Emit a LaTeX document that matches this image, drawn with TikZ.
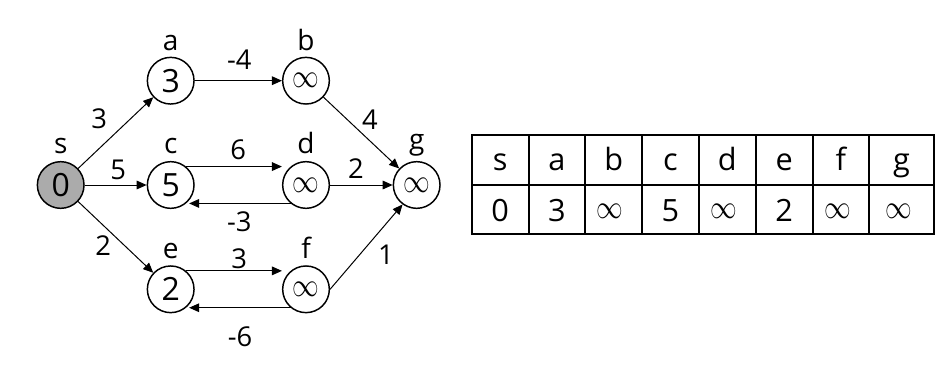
\documentclass[tikz,border=0pt]{standalone}
\usepackage{fontspec}
\usepackage{graphicx}
\setmainfont{Open Sans}
\usetikzlibrary{arrows.meta,calc}
\newcommand\infg{\scalebox{2.0}[2.5]{\fontsize{10}{10}\selectfont$\infty$}}
\begin{document}
\begin{tikzpicture}[x=0.75pt,y=-0.75pt,
  vert/.style={circle,draw,line width=1.1pt,minimum size=35pt,inner sep=0pt,font=\fontsize{24}{24}\selectfont},
  start/.style={vert,fill=black!33},
  vlab/.style={anchor=base,inner sep=0pt,font=\fontsize{21}{21}\selectfont},
  wlab/.style={inner sep=0pt,font=\fontsize{20.5}{20.5}\selectfont},
  edge/.style={line width=0.75pt,-{Triangle[length=7.5pt,width=6.5pt]}},
  tbl/.style={line width=1.5pt},
  cell/.style={anchor=base,inner sep=0pt,font=\fontsize{23}{23}\selectfont},
  cinf/.style={inner sep=0pt}]
\useasboundingbox (0,0) rectangle (943,379);
% vertices
\node[start] (s) at (60.7,185) {0};
\node[vert] (a) at (170.7,80.7) {3};
\node[vert] (b) at (306,80.7) {\infg};
\node[vert] (c) at (170.7,185) {5};
\node[vert] (d) at (306,185) {\infg};
\node[vert] (g) at (416.7,185) {\infg};
\node[vert] (e) at (170.7,289.3) {2};
\node[vert] (f) at (306,289.3) {\infg};
% vertex names
\node[vlab] (ls) at (60.7,153) {s};
\node[vlab] (la) at (170.7,50) {a};
\node[vlab] (lb) at (306,50) {b};
\node[vlab] (lc) at (170.7,153) {c};
\node[vlab] (ld) at (306,153) {d};
\node[vlab] (lg) at (416.7,149) {g};
\node[vlab] (le) at (170.7,258) {e};
\node[vlab] (lf) at (306,258) {f};
% edges
\draw[edge] (s) -- (a);
\draw[edge] (s) -- (c);
\draw[edge] (s) -- (e);
\draw[edge] (a) -- (b);
\draw[edge] (b) -- (g);
\draw[edge] (c.50) -- (c.50 -| d.west);
\draw[edge] (d.230) -- (d.230 -| c.-40);
\draw[edge] (d) -- (g);
\draw[edge] (e.50) -- (e.50 -| f.west);
\draw[edge] (f.230) -- (f.230 -| e.-40);
\draw[edge] (f.east) -- (g.234);
% weights
\node[wlab] (w1) at (99.3,118.3) {3};
\node[wlab] (w2) at (118.3,170) {5};
\node[wlab] (w3) at (103.3,246) {2};
\node[wlab] (w4) at (239.3,60) {-4};
\node[wlab] (w5) at (370,120) {4};
\node[wlab] (w6) at (238.3,150) {6};
\node[wlab] (w7) at (356,168.3) {2};
\node[wlab] (w8) at (239.3,221.7) {-3};
\node[wlab] (w9) at (239.3,258.3) {3};
\node[wlab] (w10) at (386,255) {1};
\node[wlab] (w11) at (240,336.7) {-6};
% table
\draw[tbl] (471.7,135) rectangle (934,234);
\draw[tbl] (471.7,185) -- (934,185);
\foreach \x in {528.5,585.3,642.1,698.9,755.7,812.5,869.3} \draw[tbl] (\x,135) -- (\x,234);
\node[cell] (h1) at (500.1,170) {s};
\node[cell] (h2) at (556.9,170) {a};
\node[cell] (h3) at (613.7,170) {b};
\node[cell] (h4) at (670.5,170) {c};
\node[cell] (h5) at (727.3,170) {d};
\node[cell] (h6) at (784.1,170) {e};
\node[cell] (h7) at (840.9,170) {f};
\node[cell] (h8) at (901.6,170) {g};
\node[cell] (v1) at (500.1,221.7) {0};
\node[cell] (v2) at (556.9,221.7) {3};
\node[cinf] (v3) at (610,211) {\infg};
\node[cell] (v4) at (670.5,221.7) {5};
\node[cinf] (v5) at (724,211) {\infg};
\node[cell] (v6) at (784.1,221.7) {2};
\node[cinf] (v7) at (838,211) {\infg};
\node[cinf] (v8) at (899,211) {\infg};
\end{tikzpicture}
\end{document}
